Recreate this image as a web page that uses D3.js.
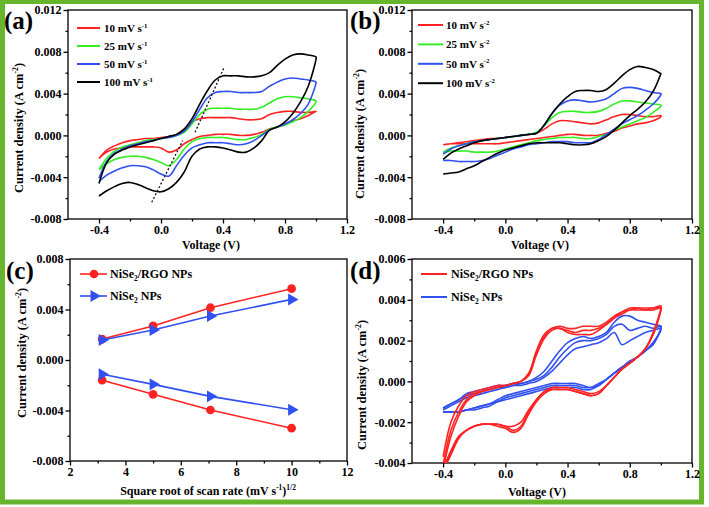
<!DOCTYPE html>
<html>
<head>
<meta charset="utf-8">
<script src="https://cdn.jsdelivr.net/npm/d3@7"></script>
<style>
  body { margin: 0; background: #fff; }
  svg text { font-family: "Liberation Serif", "Times New Roman", serif; font-weight: bold; fill: #000; }
</style>
</head>
<body>
<svg id="fig" width="709" height="507"></svg>
<script>
// ---- data ----
// potential grid of a CV sweep: forward (anodic) then reverse (cathodic)
const vUp = [-0.4,-0.35,-0.3,-0.25,-0.2,-0.15,-0.1,-0.05,0,0.05,0.1,0.15,0.2,0.25,0.3,0.35,0.4,0.45,0.5,0.55,0.6,0.65,0.7,0.75,0.8,0.85,0.9,0.95,1.0];
const vDown = [1.0,0.95,0.9,0.85,0.8,0.75,0.7,0.65,0.6,0.55,0.5,0.45,0.4,0.35,0.3,0.25,0.2,0.15,0.1,0.05,0,-0.05,-0.1,-0.15,-0.2,-0.25,-0.3,-0.35,-0.4];

// (a) NiSe2/RGO, current density (A cm-2)
const aUp10 = [-0.0022,-0.0014,-0.0010,-0.0007,-0.0005,-0.0004,-0.0003,-0.0003,-0.0002,-0.0001,0.0001,0.0006,0.0013,0.0016,0.0017,0.0017,0.0017,0.0017,0.0016,0.0015,0.0015,0.0016,0.0020,0.0022,0.0023,0.0023,0.0022,0.0022,0.0023];
const aDown10 = [0.0023,0.0019,0.0016,0.0014,0.0011,0.0008,0.0006,0.0003,0.0001,0.0000,0.0000,0.0001,0.0001,0.0001,0.0000,-0.0001,-0.0004,-0.0008,-0.0014,-0.0016,-0.0012,-0.0011,-0.0011,-0.0011,-0.0011,-0.0012,-0.0013,-0.0016,-0.0022];
const aUp25 = [-0.0033,-0.0022,-0.0015,-0.0011,-0.0009,-0.0007,-0.0005,-0.0004,-0.0003,-0.0002,0.0000,0.0003,0.0011,0.0020,0.0025,0.0026,0.0026,0.0026,0.0025,0.0025,0.0025,0.0027,0.0031,0.0035,0.0037,0.0037,0.0036,0.0035,0.0033];
const aDown25 = [0.0032,0.0023,0.0017,0.0013,0.0010,0.0008,0.0006,0.0001,-0.0002,-0.0004,-0.0004,-0.0003,-0.0002,-0.0002,-0.0002,-0.0003,-0.0006,-0.0013,-0.0023,-0.0029,-0.0026,-0.0023,-0.0021,-0.0020,-0.0020,-0.0021,-0.0023,-0.0027,-0.0033];
const aUp50 = [-0.0041,-0.0025,-0.0017,-0.0013,-0.0010,-0.0008,-0.0006,-0.0005,-0.0003,-0.0002,0.0000,0.0004,0.0013,0.0025,0.0036,0.0041,0.0042,0.0042,0.0041,0.0041,0.0041,0.0042,0.0047,0.0051,0.0054,0.0055,0.0054,0.0053,0.0051];
const aDown50 = [0.0050,0.0030,0.0021,0.0015,0.0011,0.0008,0.0005,0.0000,-0.0005,-0.0008,-0.0009,-0.0008,-0.0007,-0.0007,-0.0007,-0.0009,-0.0012,-0.0019,-0.0029,-0.0039,-0.0037,-0.0033,-0.0030,-0.0029,-0.0029,-0.0031,-0.0034,-0.0038,-0.0044];
const aUp100 = [-0.0046,-0.0026,-0.0018,-0.0014,-0.0011,-0.0009,-0.0007,-0.0005,-0.0003,-0.0001,0.0001,0.0006,0.0016,0.0030,0.0043,0.0053,0.0057,0.0057,0.0057,0.0056,0.0056,0.0057,0.0060,0.0067,0.0073,0.0077,0.0078,0.0077,0.0075];
const aDown100 = [0.0073,0.0047,0.0032,0.0021,0.0013,0.0008,0.0005,-0.0005,-0.0012,-0.0016,-0.0016,-0.0014,-0.0012,-0.0011,-0.0011,-0.0013,-0.0020,-0.0035,-0.0045,-0.0051,-0.0054,-0.0053,-0.0050,-0.0047,-0.0045,-0.0046,-0.0049,-0.0053,-0.0058];
// dotted guide lines through the peaks, [V, J]
const aGuideCath = [[-0.06,-0.0064],[0.14,-0.0005]];
const aGuideAnod = [[0.22,0.0003],[0.41,0.0066]];

// (b) NiSe2
const bUp10 = [-0.0009,-0.0008,-0.0007,-0.0006,-0.0005,-0.0004,-0.0003,-0.0003,-0.0002,-0.0001,0.0000,0.0001,0.0002,0.0006,0.0011,0.0014,0.0014,0.0013,0.0012,0.0011,0.0012,0.0015,0.0018,0.0020,0.0020,0.0019,0.0018,0.0018,0.0019];
const bDown10 = [0.0018,0.0014,0.0012,0.0011,0.0009,0.0007,0.0004,0.0002,0.0000,0.0000,0.0000,0.0001,0.0001,0.0000,-0.0001,-0.0002,-0.0003,-0.0004,-0.0005,-0.0006,-0.0007,-0.0008,-0.0008,-0.0008,-0.0008,-0.0008,-0.0008,-0.0008,-0.0009];
const bUp25 = [-0.0016,-0.0012,-0.0010,-0.0008,-0.0006,-0.0005,-0.0004,-0.0003,-0.0002,-0.0001,0.0000,0.0001,0.0003,0.0009,0.0017,0.0022,0.0023,0.0023,0.0022,0.0022,0.0023,0.0026,0.0030,0.0033,0.0033,0.0032,0.0031,0.0030,0.0029];
const bDown25 = [0.0028,0.0022,0.0017,0.0014,0.0011,0.0008,0.0005,0.0001,-0.0001,-0.0003,-0.0003,-0.0002,-0.0002,-0.0002,-0.0003,-0.0004,-0.0005,-0.0007,-0.0009,-0.0011,-0.0013,-0.0015,-0.0016,-0.0016,-0.0016,-0.0015,-0.0015,-0.0015,-0.0017];
const bUp50 = [-0.0018,-0.0013,-0.0010,-0.0008,-0.0006,-0.0005,-0.0004,-0.0003,-0.0002,-0.0001,0.0000,0.0001,0.0002,0.0010,0.0021,0.0029,0.0033,0.0034,0.0033,0.0032,0.0033,0.0035,0.0040,0.0045,0.0046,0.0045,0.0043,0.0041,0.0040];
const bDown50 = [0.0039,0.0030,0.0024,0.0019,0.0015,0.0011,0.0006,0.0001,-0.0004,-0.0007,-0.0007,-0.0007,-0.0006,-0.0006,-0.0006,-0.0007,-0.0008,-0.0009,-0.0011,-0.0013,-0.0016,-0.0019,-0.0022,-0.0024,-0.0025,-0.0025,-0.0025,-0.0024,-0.0024];
const bUp100 = [-0.0023,-0.0017,-0.0013,-0.0010,-0.0007,-0.0005,-0.0004,-0.0003,-0.0002,-0.0001,0.0000,0.0001,0.0002,0.0010,0.0021,0.0030,0.0037,0.0042,0.0043,0.0043,0.0042,0.0044,0.0050,0.0057,0.0063,0.0066,0.0065,0.0063,0.0059];
const bDown100 = [0.0059,0.0042,0.0032,0.0025,0.0019,0.0012,0.0005,-0.0001,-0.0005,-0.0008,-0.0009,-0.0009,-0.0008,-0.0007,-0.0007,-0.0007,-0.0007,-0.0008,-0.0010,-0.0012,-0.0014,-0.0017,-0.0021,-0.0025,-0.0029,-0.0032,-0.0035,-0.0036,-0.0037];

// (c) peak current vs square root of scan rate
const cRootRate = [3.16, 5, 7.07, 10];
const cRgoAnodic = [0.00166, 0.0027, 0.00414, 0.00565];
const cRgoCathodic = [-0.0016, -0.00272, -0.00396, -0.0054];
const cNiAnodic = [0.00158, 0.00238, 0.00348, 0.0048];
const cNiCathodic = [-0.00113, -0.00193, -0.00288, -0.00394];

// (d) repeated cycles
const dRgoUp1 = [-0.0037,-0.0020,-0.0012,-0.0007,-0.0005,-0.0004,-0.0003,-0.0002,-0.0002,-0.0001,0.0000,0.0004,0.0015,0.0023,0.0026,0.0027,0.0026,0.0026,0.0027,0.0027,0.0027,0.0029,0.0032,0.0034,0.0036,0.0036,0.0036,0.0036,0.0037];
const dRgoDown1 = [0.0036,0.0024,0.0016,0.0012,0.0009,0.0006,0.0002,-0.0002,-0.0006,-0.0007,-0.0006,-0.0005,-0.0004,-0.0004,-0.0004,-0.0006,-0.0010,-0.0016,-0.0023,-0.0025,-0.0023,-0.0022,-0.0021,-0.0021,-0.0022,-0.0024,-0.0027,-0.0034,-0.0043];
const dRgoUp2 = [-0.0041,-0.0024,-0.0015,-0.0009,-0.0006,-0.0005,-0.0004,-0.0003,-0.0002,-0.0001,0.0000,0.0003,0.0014,0.0022,0.0026,0.0026,0.0025,0.0024,0.0025,0.0025,0.0026,0.0028,0.0031,0.0034,0.0035,0.0036,0.0035,0.0036,0.0036];
const dRgoDown2 = [0.0035,0.0023,0.0016,0.0012,0.0009,0.0006,0.0002,-0.0002,-0.0006,-0.0007,-0.0006,-0.0005,-0.0004,-0.0004,-0.0004,-0.0005,-0.0009,-0.0015,-0.0022,-0.0024,-0.0022,-0.0021,-0.0021,-0.0021,-0.0022,-0.0024,-0.0027,-0.0035,-0.0043];
const dRgoUp3 = [-0.0043,-0.0027,-0.0017,-0.0010,-0.0007,-0.0005,-0.0004,-0.0003,-0.0002,-0.0001,0.0000,0.0003,0.0013,0.0021,0.0025,0.0026,0.0024,0.0023,0.0023,0.0023,0.0025,0.0028,0.0031,0.0033,0.0035,0.0035,0.0035,0.0035,0.0036];
const dRgoDown3 = [0.0035,0.0023,0.0016,0.0012,0.0009,0.0006,0.0002,-0.0002,-0.0005,-0.0006,-0.0005,-0.0004,-0.0003,-0.0003,-0.0003,-0.0005,-0.0009,-0.0014,-0.0020,-0.0022,-0.0022,-0.0021,-0.0021,-0.0021,-0.0022,-0.0024,-0.0028,-0.0036,-0.0044];
const dNiUp1 = [-0.0013,-0.0011,-0.0009,-0.0006,-0.0005,-0.0004,-0.0003,-0.0002,-0.0002,-0.0001,-0.0001,0.0000,0.0002,0.0005,0.0010,0.0015,0.0019,0.0021,0.0022,0.0021,0.0022,0.0024,0.0029,0.0032,0.0032,0.0030,0.0029,0.0028,0.0027];
const dNiDown1 = [0.0026,0.0018,0.0015,0.0012,0.0009,0.0007,0.0004,0.0001,-0.0001,-0.0003,-0.0002,-0.0001,-0.0001,-0.0001,-0.0001,-0.0002,-0.0003,-0.0004,-0.0005,-0.0006,-0.0007,-0.0009,-0.0011,-0.0012,-0.0013,-0.0014,-0.0015,-0.0015,-0.0015];
const dNiUp2 = [-0.0013,-0.0011,-0.0009,-0.0007,-0.0006,-0.0005,-0.0004,-0.0003,-0.0003,-0.0002,-0.0001,0.0000,0.0001,0.0003,0.0007,0.0012,0.0016,0.0019,0.0020,0.0020,0.0021,0.0023,0.0027,0.0028,0.0025,0.0026,0.0027,0.0026,0.0027];
const dNiDown2 = [0.0026,0.0019,0.0015,0.0012,0.0009,0.0007,0.0004,0.0001,-0.0002,-0.0003,-0.0003,-0.0002,-0.0002,-0.0002,-0.0002,-0.0003,-0.0004,-0.0005,-0.0006,-0.0007,-0.0008,-0.0010,-0.0011,-0.0012,-0.0013,-0.0014,-0.0015,-0.0015,-0.0015];
const dNiUp3 = [-0.0014,-0.0012,-0.0010,-0.0008,-0.0007,-0.0006,-0.0005,-0.0004,-0.0003,-0.0002,-0.0002,-0.0001,0.0000,0.0002,0.0005,0.0009,0.0013,0.0016,0.0017,0.0018,0.0019,0.0021,0.0024,0.0018,0.0020,0.0022,0.0024,0.0025,0.0026];
const dNiDown3 = [0.0025,0.0019,0.0015,0.0012,0.0010,0.0007,0.0004,0.0001,-0.0002,-0.0004,-0.0004,-0.0003,-0.0003,-0.0003,-0.0003,-0.0004,-0.0005,-0.0006,-0.0007,-0.0008,-0.0009,-0.0010,-0.0012,-0.0013,-0.0014,-0.0014,-0.0015,-0.0015,-0.0015];

// axis ticks
const vTicks = [-0.4, 0, 0.4, 0.8, 1.2];
const vMinor = [-0.2, 0.2, 0.6, 1.0];
const jTicksAB = [-0.008, -0.004, 0, 0.004, 0.008, 0.012];
const jMinorAB = [-0.006, -0.002, 0.002, 0.006, 0.010];
const rateTicks = [2, 4, 6, 8, 10, 12];
const rateMinor = [3, 5, 7, 9, 11];
const jTicksC = [-0.008, -0.004, 0, 0.004, 0.008];
const jMinorC = [-0.006, -0.002, 0.002, 0.006];
const jTicksD = [-0.004, -0.002, 0, 0.002, 0.004, 0.006];
const jMinorD = [-0.003, -0.001, 0.001, 0.003, 0.005];

const rateLabels = ["10", "25", "50", "100"];
const RED = "#ff2222", GREEN = "#33ee22", BLUE = "#3050f0", BLACK = "#000";

// ---- drawing ----
const svg = d3.select("#fig");

// green frame round the whole figure
svg.append("rect")
  .attr("x", 2.5).attr("y", 1.5).attr("width", 699).attr("height", 500.5)
  .attr("fill", "none").attr("stroke", "#66b52c").attr("stroke-width", 5);

function makePanel(o) {
  const g = svg.append("g");
  const x = d3.scaleLinear().domain(o.xDom).range([o.x0, o.x1]);
  const y = d3.scaleLinear().domain(o.yDom).range([o.y1, o.y0]);

  // minor ticks
  g.append("g").attr("transform", "translate(0," + o.y1 + ")")
    .call(d3.axisBottom(x).tickValues(o.xMinor).tickSize(2.5).tickFormat(""));
  g.append("g").attr("transform", "translate(" + o.x0 + ",0)")
    .call(d3.axisLeft(y).tickValues(o.yMinor).tickSize(2.5).tickFormat(""));
  // major ticks
  g.append("g").attr("transform", "translate(0," + o.y1 + ")")
    .call(d3.axisBottom(x).tickValues(o.xTicks).tickSize(4.5).tickPadding(2).tickFormat(o.xFmt));
  g.append("g").attr("transform", "translate(" + o.x0 + ",0)")
    .call(d3.axisLeft(y).tickValues(o.yTicks).tickSize(4.5).tickPadding(2).tickFormat(d => d.toFixed(3)));

  g.selectAll(".domain").remove();
  g.selectAll("g").attr("font-family", null).attr("font-size", null);
  g.selectAll(".tick line").attr("stroke-width", 1.3);
  g.selectAll(".tick text").style("font-size", "12px");

  g.append("rect")
    .attr("x", o.x0).attr("y", o.y0)
    .attr("width", o.x1 - o.x0).attr("height", o.y1 - o.y0)
    .attr("fill", "none").attr("stroke", "#000").attr("stroke-width", 1.3);

  svg.append("clipPath").attr("id", "clip-" + o.name)
    .append("rect").attr("x", o.x0).attr("y", o.y0)
    .attr("width", o.x1 - o.x0).attr("height", o.y1 - o.y0);
  const plot = g.append("g").attr("clip-path", "url(#clip-" + o.name + ")");

  // panel letter
  g.append("text").attr("x", o.letterX).attr("y", o.letterY)
    .style("font-size", "25px").text("(" + o.name + ")");

  return { g: g, x: x, y: y, plot: plot };
}

function cvPoints(up, down) {
  return vUp.map((v, i) => [v, up[i]]).concat(vDown.map((v, i) => [v, down[i]]));
}

function drawCurve(p, pts, color, w) {
  const line = d3.line()
    .x(d => p.x(d[0])).y(d => p.y(d[1]))
    .curve(d3.curveCatmullRom.alpha(0.5));
  p.plot.append("path").datum(pts)
    .attr("d", line).attr("fill", "none")
    .attr("stroke", color).attr("stroke-width", w || 1.6)
    .attr("stroke-linejoin", "round");
}

// text with super/subscripts: parts = [[text, shift], ...] shift: 0, "sup", "sub"
function richText(parent, x, y, parts, size, anchor, rotate) {
  const t = parent.append("text")
    .attr("text-anchor", anchor || "start")
    .style("font-size", size + "px");
  if (rotate) t.attr("transform", "translate(" + x + "," + y + ") rotate(-90)");
  else t.attr("x", x).attr("y", y);
  let cur = 0;
  parts.forEach(function(pt) {
    let target = pt[1] === "sup" ? -size * 0.4 : pt[1] === "sub" ? size * 0.25 : 0;
    t.append("tspan")
      .attr("dy", target - cur)
      .style("font-size", pt[1] ? (size * 0.62) + "px" : size + "px")
      .text(pt[0]);
    cur = target;
  });
  return t;
}

function yTitle(parent, x, y) {
  richText(parent, x, y, [["Current density (A cm", 0], ["-2", "sup"], [")", 0]], 12.5, "middle", true);
}

// ---- panel (a) ----
const pa = makePanel({
  name: "a", x0: 68, x1: 347, y0: 10, y1: 219,
  xDom: [-0.6, 1.2], yDom: [-0.008, 0.012],
  xTicks: vTicks, xMinor: vMinor, yTicks: jTicksAB, yMinor: jMinorAB,
  xFmt: d => d.toFixed(1), letterX: 4, letterY: 29
});
const aSets = [[aUp10, aDown10, RED], [aUp25, aDown25, GREEN], [aUp50, aDown50, BLUE], [aUp100, aDown100, BLACK]];
aSets.forEach(s => drawCurve(pa, cvPoints(s[0], s[1]), s[2]));
[aGuideCath, aGuideAnod].forEach(function(gl) {
  pa.plot.append("line")
    .attr("x1", pa.x(gl[0][0])).attr("y1", pa.y(gl[0][1]))
    .attr("x2", pa.x(gl[1][0])).attr("y2", pa.y(gl[1][1]))
    .attr("stroke", "#111").attr("stroke-width", 1.3).attr("stroke-dasharray", "2,2");
});
aSets.forEach(function(s, i) {
  const ly = 28 + i * 18;
  pa.g.append("line").attr("x1", 77).attr("x2", 100).attr("y1", ly).attr("y2", ly)
    .attr("stroke", s[2]).attr("stroke-width", 2);
  richText(pa.g, 104, ly + 4, [[rateLabels[i] + " mV s", 0], ["-1", "sup"]], 11);
});
yTitle(pa.g, 23, 128);
richText(pa.g, 211, 249, [["Voltage (V)", 0]], 12, "middle");

// ---- panel (b) ----
const pb = makePanel({
  name: "b", x0: 412, x1: 692, y0: 10, y1: 219,
  xDom: [-0.6, 1.2], yDom: [-0.008, 0.012],
  xTicks: vTicks, xMinor: vMinor, yTicks: jTicksAB, yMinor: jMinorAB,
  xFmt: d => d.toFixed(1), letterX: 350, letterY: 29
});
const bSets = [[bUp10, bDown10, RED], [bUp25, bDown25, GREEN], [bUp50, bDown50, BLUE], [bUp100, bDown100, BLACK]];
bSets.forEach(s => drawCurve(pb, cvPoints(s[0], s[1]), s[2]));
bSets.forEach(function(s, i) {
  const ly = 25 + i * 19.4;
  pb.g.append("line").attr("x1", 418).attr("x2", 443).attr("y1", ly).attr("y2", ly)
    .attr("stroke", s[2]).attr("stroke-width", 2);
  richText(pb.g, 446, ly + 4, [[rateLabels[i] + " mV s", 0], ["-2", "sup"]], 11);
});
yTitle(pb.g, 364, 134);
richText(pb.g, 540, 249, [["Voltage (V)", 0]], 12, "middle");

// ---- panel (c) ----
const pc = makePanel({
  name: "c", x0: 70, x1: 347, y0: 259, y1: 461,
  xDom: [2, 12], yDom: [-0.008, 0.008],
  xTicks: rateTicks, xMinor: rateMinor, yTicks: jTicksC, yMinor: jMinorC,
  xFmt: d => String(d), letterX: 6, letterY: 279
});
const circle = d3.symbol().type(d3.symbolCircle).size(60);
const tri = d3.symbol().type(d3.symbolTriangle).size(62);
const cSets = [
  [cRgoAnodic, RED, circle], [cRgoCathodic, RED, circle],
  [cNiAnodic, BLUE, tri], [cNiCathodic, BLUE, tri]
];
cSets.forEach(function(s) {
  const pts = cRootRate.map((r, i) => [r, s[0][i]]);
  pc.g.append("path").datum(pts)
    .attr("d", d3.line().x(d => pc.x(d[0])).y(d => pc.y(d[1])))
    .attr("fill", "none").attr("stroke", s[1]).attr("stroke-width", 1.6);
  pc.g.selectAll(null).data(pts).enter().append("path")
    .attr("d", s[2])
    .attr("transform", d => "translate(" + pc.x(d[0]) + "," + pc.y(d[1]) + ")" + (s[2] === tri ? " rotate(90)" : ""))
    .attr("fill", s[1]);
});
[[RED, circle, "NiSe", "/RGO NPs", 274], [BLUE, tri, "NiSe", " NPs", 296]].forEach(function(l) {
  pc.g.append("line").attr("x1", 80).attr("x2", 107).attr("y1", l[4]).attr("y2", l[4])
    .attr("stroke", l[0]).attr("stroke-width", 1.6);
  pc.g.append("path").attr("d", l[1])
    .attr("transform", "translate(94," + l[4] + ")" + (l[1] === tri ? " rotate(90)" : ""))
    .attr("fill", l[0]);
  richText(pc.g, 110, l[4] + 4, [[l[2], 0], ["2", "sub"], [l[3], 0]], 12);
});
yTitle(pc.g, 26, 353);
richText(pc.g, 208, 495, [["Square root of scan rate (mV s", 0], ["-1", "sup"], [")", 0], ["1/2", "sup"]], 12, "middle");

// ---- panel (d) ----
const pd = makePanel({
  name: "d", x0: 412, x1: 692, y0: 259, y1: 463,
  xDom: [-0.6, 1.2], yDom: [-0.004, 0.006],
  xTicks: vTicks, xMinor: vMinor, yTicks: jTicksD, yMinor: jMinorD,
  xFmt: d => d.toFixed(1), letterX: 350, letterY: 279
});
[[dNiUp1, dNiDown1], [dNiUp2, dNiDown2], [dNiUp3, dNiDown3]]
  .forEach(s => drawCurve(pd, cvPoints(s[0], s[1]), BLUE, 1.6));
[[dRgoUp1, dRgoDown1], [dRgoUp2, dRgoDown2], [dRgoUp3, dRgoDown3]]
  .forEach(s => drawCurve(pd, cvPoints(s[0], s[1]), RED, 1.6));
[[RED, "/RGO NPs", 274], [BLUE, " NPs", 297]].forEach(function(l) {
  pd.g.append("line").attr("x1", 421).attr("x2", 447).attr("y1", l[2]).attr("y2", l[2])
    .attr("stroke", l[0]).attr("stroke-width", 2);
  richText(pd.g, 451, l[2] + 4, [["NiSe", 0], ["2", "sub"], [l[1], 0]], 12);
});
yTitle(pd.g, 366, 385);
richText(pd.g, 537, 496, [["Voltage (V)", 0]], 12, "middle");
</script>
</body>
</html>
